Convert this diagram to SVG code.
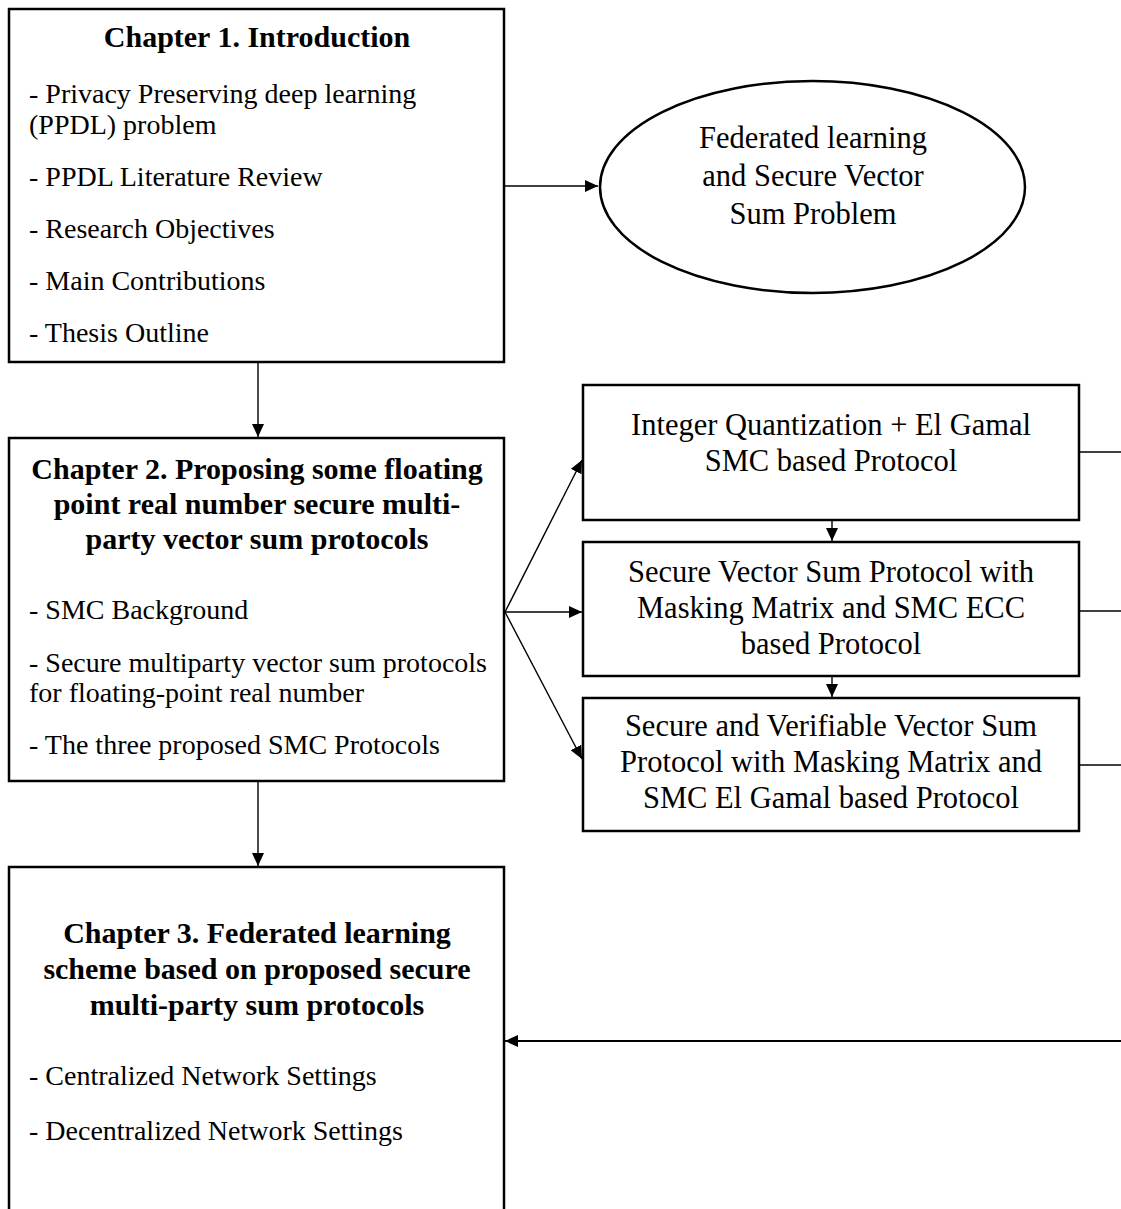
<svg xmlns="http://www.w3.org/2000/svg" width="1121" height="1209" viewBox="0 0 1121 1209">
  <style>
    .box { fill: #fff; stroke: #000; stroke-width: 2.5; }
    .title { font-family: "Liberation Serif", "Times New Roman", serif; font-weight: bold; font-size: 30px; fill: #000; text-anchor: middle; }
    .body { font-family: "Liberation Serif", "Times New Roman", serif; font-size: 28px; fill: #000; }
    .label { font-family: "Liberation Serif", "Times New Roman", serif; font-size: 30.5px; fill: #000; text-anchor: middle; }
    .edge { fill: none; stroke: #000; stroke-width: 1.4; }
    .edge-heavy { fill: none; stroke: #000; stroke-width: 2; }
  </style>
  <defs>
    <marker id="arrow" markerUnits="userSpaceOnUse" markerWidth="14" markerHeight="12" refX="13" refY="6" orient="auto">
      <path d="M0,0 L13,6 L0,12 Z" fill="#000"/>
    </marker>
  </defs>
  <rect width="1121" height="1209" fill="#fff"/>

  <!-- Connectors -->
  <g id="connectors">
    <line class="edge" x1="505" y1="186" x2="598" y2="186" marker-end="url(#arrow)"/>
    <line class="edge" x1="258" y1="362" x2="258" y2="437" marker-end="url(#arrow)"/>
    <line class="edge" x1="258" y1="781" x2="258" y2="866" marker-end="url(#arrow)"/>
    <line class="edge" x1="505" y1="612" x2="582" y2="460" marker-end="url(#arrow)"/>
    <line class="edge" x1="505" y1="612" x2="582" y2="612" marker-end="url(#arrow)"/>
    <line class="edge" x1="505" y1="612" x2="582" y2="759" marker-end="url(#arrow)"/>
    <line class="edge" x1="832" y1="520" x2="832" y2="541" marker-end="url(#arrow)"/>
    <line class="edge" x1="832" y1="676" x2="832" y2="697" marker-end="url(#arrow)"/>
    <line class="edge" x1="1079" y1="452" x2="1121" y2="452"/>
    <line class="edge" x1="1079" y1="611" x2="1121" y2="611"/>
    <line class="edge" x1="1079" y1="765" x2="1121" y2="765"/>
    <line class="edge-heavy" x1="1121" y1="1041" x2="505" y2="1041" marker-end="url(#arrow)"/>
  </g>

  <!-- Chapter 1 -->
  <g id="chapter1">
    <rect class="box" x="9" y="9" width="495" height="353"/>
    <text class="title" x="257" y="47">Chapter 1. Introduction</text>
    <text class="body" x="29" y="103">- Privacy Preserving deep learning</text>
    <text class="body" x="29" y="134">(PPDL) problem</text>
    <text class="body" x="29" y="186">- PPDL Literature Review</text>
    <text class="body" x="29" y="238">- Research Objectives</text>
    <text class="body" x="29" y="290">- Main Contributions</text>
    <text class="body" x="29" y="342">- Thesis Outline</text>
  </g>

  <!-- Federated learning problem -->
  <g id="problem">
    <ellipse class="box" cx="812.5" cy="187" rx="212.5" ry="106"/>
    <text class="label" x="813" y="148">Federated learning</text>
    <text class="label" x="813" y="186">and Secure Vector</text>
    <text class="label" x="813" y="224">Sum Problem</text>
  </g>

  <!-- Chapter 2 -->
  <g id="chapter2">
    <rect class="box" x="9" y="438" width="495" height="343"/>
    <text class="title" x="257" y="479">Chapter 2. Proposing some floating</text>
    <text class="title" x="257" y="514">point real number secure multi-</text>
    <text class="title" x="257" y="549">party vector sum protocols</text>
    <text class="body" x="29" y="619">- SMC Background</text>
    <text class="body" x="29" y="672">- Secure multiparty vector sum protocols</text>
    <text class="body" x="29" y="702">for floating-point real number</text>
    <text class="body" x="29" y="754">- The three proposed SMC Protocols</text>
  </g>

  <!-- Protocol 1 -->
  <g id="protocol1">
    <rect class="box" x="583" y="385" width="496" height="135"/>
    <text class="label" x="831" y="435">Integer Quantization + El Gamal</text>
    <text class="label" x="831" y="471">SMC based Protocol</text>
  </g>

  <!-- Protocol 2 -->
  <g id="protocol2">
    <rect class="box" x="583" y="542" width="496" height="134"/>
    <text class="label" x="831" y="582">Secure Vector Sum Protocol with</text>
    <text class="label" x="831" y="618">Masking Matrix and SMC ECC</text>
    <text class="label" x="831" y="654">based Protocol</text>
  </g>

  <!-- Protocol 3 -->
  <g id="protocol3">
    <rect class="box" x="583" y="698" width="496" height="133"/>
    <text class="label" x="831" y="736">Secure and Verifiable Vector Sum</text>
    <text class="label" x="831" y="772">Protocol with Masking Matrix and</text>
    <text class="label" x="831" y="808">SMC El Gamal based Protocol</text>
  </g>

  <!-- Chapter 3 -->
  <g id="chapter3">
    <rect class="box" x="9" y="867" width="495" height="360"/>
    <text class="title" x="257" y="943">Chapter 3. Federated learning</text>
    <text class="title" x="257" y="979">scheme based on proposed secure</text>
    <text class="title" x="257" y="1015">multi-party sum protocols</text>
    <text class="body" x="29" y="1085">- Centralized Network Settings</text>
    <text class="body" x="29" y="1140">- Decentralized Network Settings</text>
  </g>
</svg>
